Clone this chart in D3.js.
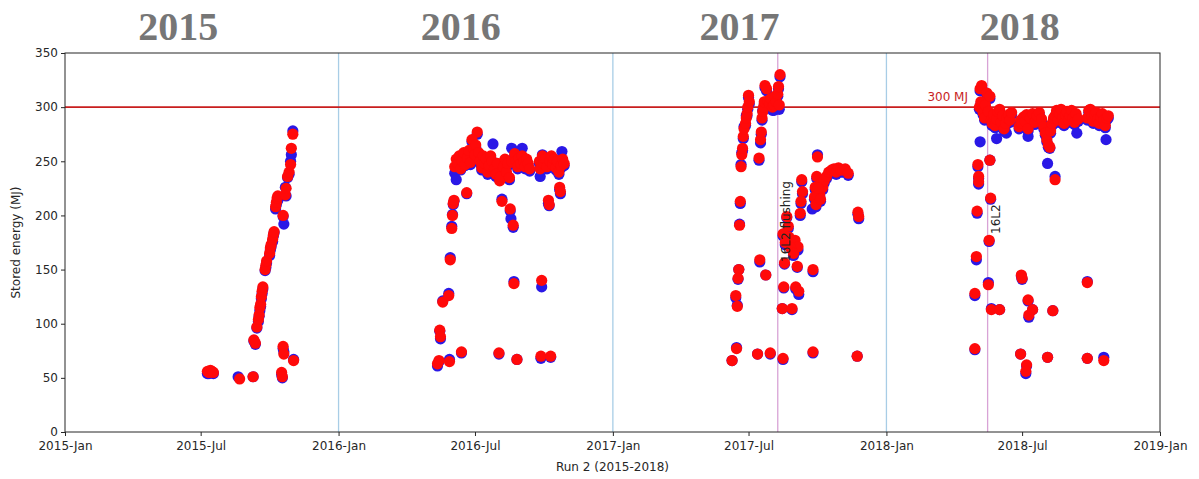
<!DOCTYPE html>
<html>
<head>
<meta charset="utf-8">
<script src="https://cdn.jsdelivr.net/npm/d3@7/dist/d3.min.js"></script>
<style>
  html, body { margin: 0; padding: 0; background: #fff; }
  svg { display: block; }
  text { font-family: "DejaVu Sans", sans-serif; }
</style>
</head>
<body>
<svg id="chart" width="1199" height="479"></svg>
<script>
// ---------------- DATA ----------------
const yearTitles = ["2015", "2016", "2017", "2018"];
const yearTitleCenters = ["2015-06-01", "2016-06-12", "2017-06-19", "2018-06-28"];
const yTicks = [0, 50, 100, 150, 200, 250, 300, 350];
const xTicks = ["2015-01-01","2015-07-01","2016-01-01","2016-07-01","2017-01-01","2017-07-01","2018-01-01","2018-07-01","2019-01-01"];
const yearBoundaries = ["2016-01-01", "2017-01-01", "2018-01-01"];
const events = ["2017-08-09", "2018-05-16"];
const eventLabels = ["16L2 flushing", "16L2"];
const limitValue = 300;
const limitLabel = "300 MJ";

// 2015
const dates2015 = ["2015-07-10","2015-07-12","2015-07-14","2015-07-16","2015-07-18",
  "2015-08-20","2015-08-22","2015-09-09","2015-09-10","2015-09-12",
  "2015-09-14","2015-09-16","2015-09-17","2015-09-18","2015-09-19","2015-09-20","2015-09-21","2015-09-22",
  "2015-09-25","2015-09-26","2015-09-27","2015-10-01","2015-10-02","2015-10-03","2015-10-05","2015-10-06","2015-10-07",
  "2015-10-09","2015-10-10","2015-10-11","2015-10-12",
  "2015-10-19","2015-10-20","2015-10-22","2015-10-23","2015-10-25","2015-10-27","2015-10-29","2015-10-30","2015-11-01",
  "2015-10-17","2015-10-18","2015-10-19","2015-10-20","2015-11-02"];
const red2015 = [56,55,57,56,55, null,49,51,85,82, 97,104,108,115,118,125,130,134, 150,154,158,165,170,173,178,182,185,
  208,212,216,218, 200,null,219,225,236,240,247,262,275, 55,51,79,72,66];
const blue2015 = [54,54,55,55,54, 51,null,51,84,81, 96,102,107,112,116,123,128,132, 149,152,156,163,168,171,176,181,184,
  206,210,213,214, 199,192,226,218,235,238,250,256,278, 53,50,77,74,67];

// 2016
const dates2016 = ["2016-05-12","2016-05-14","2016-05-28","2016-06-13","2016-08-02","2016-08-26","2016-09-27","2016-10-10",
  "2016-05-15","2016-05-16","2016-05-19","2016-05-27","2016-05-29","2016-05-31","2016-06-01","2016-06-02","2016-06-03","2016-06-20",
  "2016-08-06","2016-08-17","2016-08-18","2016-08-21","2016-08-22","2016-09-28","2016-10-07","2016-10-08","2016-10-22","2016-10-23",
  "2016-07-04","2016-06-27","2016-07-25","2016-10-25",
  "2016-06-04","2016-06-06","2016-06-08","2016-06-10","2016-06-12","2016-06-14","2016-06-16","2016-06-18","2016-06-21","2016-06-23",
  "2016-06-25","2016-06-29","2016-07-01","2016-07-02","2016-07-06","2016-07-08","2016-07-10","2016-07-12","2016-07-14","2016-07-16",
  "2016-07-18","2016-07-20","2016-07-22","2016-07-24","2016-07-27","2016-07-29","2016-07-31","2016-08-03","2016-08-04","2016-08-08",
  "2016-08-10","2016-08-12","2016-08-14","2016-08-16","2016-08-19","2016-08-23","2016-08-25","2016-08-27","2016-08-29","2016-08-31",
  "2016-09-02","2016-09-04","2016-09-06","2016-09-08","2016-09-10","2016-09-12",
  "2016-09-25","2016-09-26","2016-09-29","2016-10-01","2016-10-03","2016-10-05","2016-10-09","2016-10-11","2016-10-13","2016-10-15",
  "2016-10-17","2016-10-19","2016-10-21","2016-10-24","2016-10-26","2016-10-28"];
const red2016 = [63,66,65,74,73,67,70,70,
  94,88,120,126,159,188,200,211,214,221,
  213,206,null,191,137,140,214,210,226,222,
  277,270,null,null,
  245,252,248,255,243,250,258,247,253,260,
  249,262,256,265,258,250,244,255,248,252,
  240,246,255,250,243,238,248,232,236,245,
  252,240,248,235,250,257,250,245,253,248,
  255,250,245,252,248,243,
  250,243,255,248,252,245,250,255,247,252,
  244,250,240,246,252,248];
const blue2016 = [61,65,67,73,72,67,68,69,
  93,86,121,128,161,190,201,210,213,220,
  215,204,197,189,139,134,211,209,224,220,
  275,268,266,259,
  239,233,246,253,242,248,256,246,251,258,
  247,260,254,263,256,248,242,253,246,250,
  238,244,253,248,241,236,246,233,234,243,
  250,238,246,233,262,255,248,243,251,246,
  262,248,243,250,246,241,
  248,236,256,246,250,243,248,253,245,250,
  242,248,238,244,250,246];

// 2017
const dates2017 = ["2017-06-09","2017-06-15","2017-07-13","2017-07-30","2017-08-16","2017-09-25","2017-11-23",
  "2017-06-14","2017-06-16","2017-06-18","2017-06-17","2017-06-19","2017-06-20","2017-06-21","2017-06-22","2017-06-23","2017-06-24",
  "2017-06-25","2017-06-27","2017-06-28","2017-06-29","2017-06-30","2017-07-01","2017-07-02",
  "2017-07-16","2017-07-24","2017-07-15","2017-07-17","2017-07-18","2017-07-19","2017-07-20","2017-07-21","2017-07-22","2017-07-23",
  "2017-07-25","2017-07-27","2017-07-29","2017-07-31","2017-08-02","2017-08-04","2017-08-05","2017-08-07","2017-08-09","2017-08-10",
  "2017-08-12","2017-08-11",
  "2017-08-16","2017-08-21","2017-08-24","2017-09-01","2017-09-05","2017-08-18","2017-09-04","2017-08-17","2017-09-02","2017-09-06",
  "2017-08-15","2017-08-28","2017-09-25","2017-08-19","2017-08-23","2017-08-26","2017-08-30",
  "2017-09-10","2017-09-11","2017-09-08","2017-09-09","2017-09-24","2017-10-01","2017-09-30","2017-10-04","2017-10-06","2017-10-08",
  "2017-10-10","2017-10-13","2017-10-16","2017-10-20","2017-10-23","2017-10-26","2017-10-29","2017-11-01","2017-11-04","2017-11-07",
  "2017-11-11","2017-09-28","2017-09-27","2017-09-29","2017-10-02","2017-10-05","2017-11-24","2017-11-25"];
const red2017 = [66,77,72,73,68,74,70,
  126,116,150,142,191,213,245,256,262,273,
  280,285,290,294,300,311,305,
  159,145,253,270,277,290,296,300,305,320,
  317,306,303,308,300,302,310,305,312,319,
  330,302,
  183,199,180,177,171,156,153,134,134,130,
  114,114,150,175,190,170,165,
  233,222,202,213,null,254,236,220,230,226,
  232,236,240,242,243,240,244,242,242,243,
  239,226,217,210,225,215,203,199];
const blue2017 = [66,78,72,72,67,73,70,
  124,117,150,141,192,211,247,258,260,271,
  282,283,292,292,298,309,303,
  157,145,251,267,275,288,297,298,303,318,
  315,304,301,305,297,297,308,303,310,317,
  328,298,
  181,198,178,174,168,155,152,133,132,127,
  114,113,148,173,188,172,163,
  231,220,200,211,206,256,234,218,228,224,
  230,234,238,240,241,238,242,240,240,241,
  237,224,215,208,223,213,201,197];

// 2018
const dates2018 = ["2018-05-05","2018-05-06","2018-05-07","2018-05-08","2018-05-09","2018-05-10","2018-05-12","2018-05-13","2018-05-15",
  "2018-05-17","2018-05-19","2018-05-21","2018-05-22","2018-05-24","2018-05-26","2018-05-28","2018-05-30","2018-06-01","2018-06-03",
  "2018-06-05","2018-06-07","2018-06-09","2018-06-11","2018-06-13","2018-06-15","2018-06-17",
  "2018-06-27","2018-06-29","2018-07-01","2018-07-03","2018-07-05","2018-07-07","2018-07-09","2018-07-12","2018-07-15","2018-07-18",
  "2018-07-21","2018-07-24","2018-07-27","2018-07-30","2018-08-01","2018-08-03","2018-08-05","2018-08-08","2018-08-10","2018-08-12",
  "2018-08-14","2018-08-16","2018-08-18","2018-08-20","2018-08-22","2018-08-24","2018-08-26","2018-08-28","2018-08-30","2018-09-01",
  "2018-09-03","2018-09-05","2018-09-07","2018-09-09","2018-09-11","2018-09-14",
  "2018-09-26","2018-09-28","2018-09-30","2018-10-02","2018-10-04","2018-10-06","2018-10-08","2018-10-10","2018-10-12","2018-10-14",
  "2018-10-16","2018-10-18","2018-10-20","2018-10-22","2018-10-24",
  "2018-05-19","2018-05-03","2018-05-04","2018-05-04","2018-05-20","2018-05-02","2018-05-18","2018-05-01","2018-06-30","2018-07-01",
  "2018-09-26","2018-05-17","2018-04-29","2018-07-09","2018-07-10","2018-07-15","2018-05-21","2018-06-01","2018-08-11",
  "2018-04-29","2018-06-29","2018-07-07","2018-07-06","2018-08-04","2018-09-26","2018-10-18",
  "2018-08-04","2018-08-14","2018-08-07","2018-05-06","2018-05-28","2018-06-10","2018-07-09","2018-09-12","2018-10-21"];
const red2018 = [300,317,305,320,298,295,290,302,313,
  296,310,288,285,293,283,289,296,298,286,
  292,280,285,290,293,288,295,
  282,288,285,291,287,293,280,290,294,286,
  292,295,289,282,276,270,265,278,285,290,
  292,297,288,294,298,290,285,293,296,288,
  292,297,290,286,294,289,
  290,297,298,292,287,293,295,289,285,291,
  294,288,283,290,292,
  251,247,236,231,216,204,177,162,145,142,
  138,136,128,122,108,113,113,113,112,
  77,72,62,56,69,68,66,
  null,233,263,null,null,null,null,null,null];
const blue2018 = [298,315,303,318,296,293,288,300,311,
  294,308,286,283,291,281,287,294,296,284,
  290,278,283,288,291,286,293,
  280,286,283,289,285,291,278,288,292,284,
  290,293,287,280,274,268,263,276,283,288,
  290,295,286,292,296,288,283,291,294,286,
  290,295,288,284,292,287,
  288,295,296,290,285,291,293,287,283,289,
  292,286,281,288,290,
  251,245,234,229,215,202,176,159,144,141,
  139,138,126,121,106,113,114,113,112,
  76,72,61,54,69,68,69,
  248,236,262,268,271,276,273,276,270];

// ---------------- CHART ----------------
const plotL = 65, plotR = 1160, plotT = 53, plotB = 432;
const parse = d3.timeParse("%Y-%m-%d");

const x = d3.scaleTime()
  .domain([parse("2015-01-01"), parse("2019-01-01")])
  .range([plotL, plotR]);
const y = d3.scaleLinear().domain([0, 350]).range([plotB, plotT]);

const svg = d3.select("#chart");

// year titles
svg.append("g").selectAll("text")
  .data(yearTitles)
  .join("text")
  .attr("x", (d, i) => x(parse(yearTitleCenters[i])))
  .attr("y", 40)
  .attr("text-anchor", "middle")
  .style("font-family", "'Liberation Serif', 'Times New Roman', serif")
  .style("font-weight", "bold")
  .style("font-size", "40px")
  .attr("fill", "#767676")
  .text(d => d);

// vertical lines
svg.append("g").selectAll("line")
  .data(yearBoundaries)
  .join("line")
  .attr("x1", d => x(parse(d))).attr("x2", d => x(parse(d)))
  .attr("y1", plotT).attr("y2", plotB)
  .attr("stroke", "#a8cde6").attr("stroke-width", 1.3);

svg.append("g").selectAll("line")
  .data(events)
  .join("line")
  .attr("x1", d => x(parse(d))).attr("x2", d => x(parse(d)))
  .attr("y1", plotT).attr("y2", plotB)
  .attr("stroke", "#d8a3d6").attr("stroke-width", 1.3);

// limit line
svg.append("line")
  .attr("x1", plotL).attr("x2", plotR)
  .attr("y1", y(limitValue)).attr("y2", y(limitValue))
  .attr("stroke", "#c81e1e").attr("stroke-width", 1.6);

// points
function collect(dates, vals) {
  const out = [];
  dates.forEach((d, i) => { if (vals[i] != null) out.push({ date: parse(d), v: vals[i] }); });
  return out;
}
const bluePts = [].concat(collect(dates2015, blue2015), collect(dates2016, blue2016),
  collect(dates2017, blue2017), collect(dates2018, blue2018));
const redPts = [].concat(collect(dates2015, red2015), collect(dates2016, red2016),
  collect(dates2017, red2017), collect(dates2018, red2018));

svg.append("g").selectAll("circle")
  .data(bluePts).join("circle")
  .attr("cx", d => x(d.date)).attr("cy", d => y(d.v))
  .attr("r", 5.6).attr("fill", "#2a18e6");

svg.append("g").selectAll("circle")
  .data(redPts).join("circle")
  .attr("cx", d => x(d.date)).attr("cy", d => y(d.v))
  .attr("r", 5.6).attr("fill", "#ff0a0a");

// event labels (drawn over the points)
svg.append("g").selectAll("text")
  .data(events)
  .join("text")
  .attr("transform", (d, i) => `translate(${x(parse(d)) + (i === 0 ? 12.5 : 12.5)},${i === 0 ? 262 : 234}) rotate(-90)`)
  .attr("text-anchor", "start")
  .style("font-size", "12px")
  .attr("fill", "#222")
  .text((d, i) => eventLabels[i]);

// 300 MJ label
svg.append("text")
  .attr("x", 968).attr("y", y(limitValue) - 6)
  .attr("text-anchor", "end")
  .style("font-size", "12px")
  .attr("fill", "#c81e1e")
  .text(limitLabel);

// axes
const xAxis = d3.axisBottom(x)
  .tickValues(xTicks.map(parse))
  .tickFormat(d3.timeFormat("%Y-%b"))
  .tickSize(4).tickSizeOuter(0);
const gx = svg.append("g").attr("transform", `translate(0,${plotB})`).call(xAxis);
gx.select(".domain").remove();
gx.selectAll("text").style("font-size", "12px").attr("fill", "#262626").attr("dy", "0.9em");
gx.selectAll("line").attr("stroke", "#262626");

const yAxis = d3.axisLeft(y).tickValues(yTicks).tickSize(4).tickSizeOuter(0);
const gy = svg.append("g").attr("transform", `translate(${plotL},0)`).call(yAxis);
gy.select(".domain").remove();
gy.selectAll("text").style("font-size", "12px").attr("fill", "#262626");
gy.selectAll("line").attr("stroke", "#262626");

// frame
svg.append("rect")
  .attr("x", plotL).attr("y", plotT)
  .attr("width", plotR - plotL).attr("height", plotB - plotT)
  .attr("fill", "none").attr("stroke", "#262626").attr("stroke-width", 1);

// axis labels
svg.append("text")
  .attr("x", (plotL + plotR) / 2).attr("y", 471)
  .attr("text-anchor", "middle")
  .style("font-size", "12px").attr("fill", "#262626")
  .text("Run 2 (2015-2018)");

svg.append("text")
  .attr("transform", `translate(20,${(plotT + plotB) / 2}) rotate(-90)`)
  .attr("text-anchor", "middle")
  .style("font-size", "12px").attr("fill", "#262626")
  .text("Stored energy (MJ)");
</script>
</body>
</html>
